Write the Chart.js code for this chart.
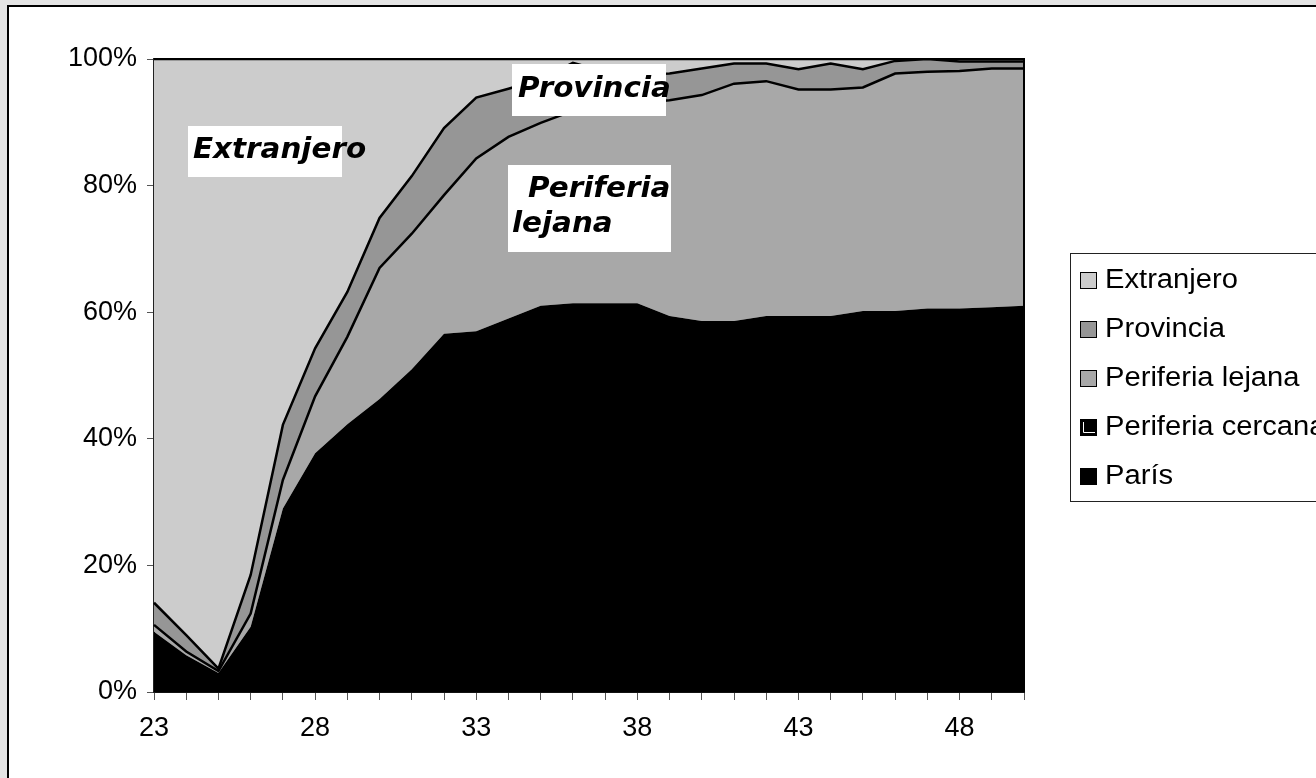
<!DOCTYPE html>
<html><head><meta charset="utf-8">
<script src="https://cdn.jsdelivr.net/npm/chart.js@4.4.1/dist/chart.umd.min.js"></script>
<style>
html,body{margin:0;padding:0;overflow:hidden;background:#e4e4e4}
canvas{display:block}
</style>
</head><body>
<canvas id="c" width="1316" height="778"></canvas>
<script>
// ---- data (percent shares, stacked to 100) ----
const years = ['23','24','25','26','27','28','29','30','31','32','33','34','35','36','37','38','39','40','41','42','43','44','45','46','47','48','49','50'];
const paris      = [9.0,5.5,2.8,9.6,27.5,35.7,40.1,44.0,48.6,54.1,54.4,56.3,58.2,58.6,58.6,58.5,56.5,55.7,55.6,56.4,56.4,56.3,57.1,57.1,57.5,57.4,57.6,57.8];
const cercana    = [0.5,0.3,0.2,0.7,1.5,2.0,2.2,2.3,2.4,2.5,2.6,2.7,2.8,2.8,2.8,2.9,2.9,2.9,3.0,3.0,3.0,3.1,3.1,3.1,3.1,3.2,3.2,3.2];
const lejana     = [1.1,0.6,0.3,2.1,4.5,9.0,13.8,20.7,21.4,21.9,27.3,28.7,28.9,30.4,31.1,31.6,34.1,35.7,37.5,37.1,35.8,35.8,35.3,37.5,37.4,37.5,37.7,37.5];
const provincia  = [3.5,2.6,0.4,6.1,8.7,7.6,7.1,7.9,9.1,10.6,9.6,7.6,6.9,7.6,5.5,4.5,4.2,4.2,3.2,2.8,3.2,4.1,2.9,2.0,2.0,1.5,1.1,1.1];
const extranjero = [85.9,91.0,96.3,81.5,57.8,45.7,36.8,25.1,18.5,10.9,6.1,4.7,3.2,0.6,2.0,2.5,2.3,1.5,0.7,0.7,1.6,0.7,1.6,0.3,0.0,0.4,0.4,0.4];
const xTickLabels = ['23','28','33','38','43','48'];
const yTicks = [0,20,40,60,80,100];
const seriesNames = ['París','Periferia cercana','Periferia lejana','Provincia','Extranjero'];
const areaLabels = [['Extranjero'],['Provincia'],['Periferia','lejana']];

const AXIS_FONT = {family:'"Liberation Sans", Arial, sans-serif', size:27};

const framePlugin = {
  id:'frame',
  beforeDraw(chart){
    const ctx = chart.ctx;
    ctx.save();
    ctx.fillStyle = '#e4e4e4';
    ctx.fillRect(0,0,chart.width,chart.height);
    ctx.fillStyle = '#ffffff';
    ctx.fillRect(8,6,chart.width,chart.height);
    ctx.strokeStyle = '#000';
    ctx.lineWidth = 2;
    ctx.beginPath();
    ctx.moveTo(8,chart.height); ctx.lineTo(8,6); ctx.lineTo(chart.width,6);
    ctx.stroke();
    ctx.restore();
  }
};

const plotBorderPlugin = {
  id:'plotBorder',
  afterDatasetsDraw(chart){
    const a = chart.chartArea, ctx = chart.ctx;
    ctx.save();
    ctx.strokeStyle = '#000';
    ctx.lineWidth = 2;
    ctx.beginPath();
    ctx.moveTo(a.left, a.top); ctx.lineTo(a.right, a.top); ctx.lineTo(a.right, a.bottom);
    ctx.stroke();
    ctx.restore();
  }
};

function stretchedText(ctx, t, x, y, sx){
  ctx.save();
  ctx.translate(x, y);
  ctx.scale(sx, 1);
  ctx.fillText(t, 0, 0);
  ctx.restore();
}

const annotPlugin = {
  id:'annot',
  afterDatasetsDraw(chart){
    const a = chart.chartArea, ctx = chart.ctx;
    const boxes = [
      {x:34, y:67, w:154, h:51, lines:[[39,99]]},
      {x:358, y:5, w:154, h:52, lines:[[364,38]]},
      {x:354, y:106, w:163, h:87, lines:[[374,138],[358,173]]}
    ];
    ctx.save();
    ctx.font = 'italic bold 28px "DejaVu Sans", Verdana, sans-serif';
    ctx.textBaseline = 'alphabetic';
    boxes.forEach((b,i)=>{
      ctx.fillStyle = '#fff';
      ctx.fillRect(a.left+b.x, a.top+b.y, b.w, b.h);
      ctx.fillStyle = '#000';
      areaLabels[i].forEach((t,j)=>{
        stretchedText(ctx, t, a.left+b.lines[j][0], a.top+b.lines[j][1], 1.05);
      });
    });
    ctx.restore();
  }
};

const legendPlugin = {
  id:'customLegend',
  afterDraw(chart){
    const ctx = chart.ctx;
    const lx = 1070, ly = 253, lw = 300, lh = 248;
    ctx.save();
    ctx.fillStyle = '#fff';
    ctx.fillRect(lx, ly, lw, lh);
    ctx.strokeStyle = '#222';
    ctx.lineWidth = 1;
    ctx.strokeRect(lx+0.5, ly+0.5, lw, lh);
    ctx.font = '27px "Liberation Sans", Arial, sans-serif';
    ctx.textBaseline = 'middle';
    const ds = chart.data.datasets.slice().reverse();
    ds.forEach((d,i)=>{
      const cy = 280 + i*49;
      ctx.fillStyle = d.backgroundColor;
      ctx.fillRect(1080, cy-8, 17, 17);
      ctx.strokeStyle = '#000';
      ctx.lineWidth = 1;
      ctx.strokeRect(1080.5, cy-7.5, 16, 16);
      if (d.label === 'Periferia cercana') {
        ctx.strokeStyle = '#fff';
        ctx.beginPath();
        ctx.moveTo(1083.5, cy-5); ctx.lineTo(1083.5, cy+5.5); ctx.lineTo(1095, cy+5.5);
        ctx.stroke();
      }
      ctx.fillStyle = '#000';
      stretchedText(ctx, d.label, 1105, cy+1, 1.08);
    });
    ctx.restore();
  }
};

const mk = (label, data, color, bw, fill) => ({
  label, data, backgroundColor: color, borderColor: bw ? '#000' : 'rgba(0,0,0,0)', borderWidth: bw,
  fill, pointRadius: 0, pointHoverRadius: 0, tension: 0, borderJoinStyle: 'miter'
});

new Chart(document.getElementById('c'), {
  type: 'line',
  data: {
    labels: years,
    datasets: [
      mk(seriesNames[0], paris, '#000000', 0, 'origin'),
      mk(seriesNames[1], cercana, '#000000', 0, 'origin'),
      mk(seriesNames[2], lejana, '#a8a8a8', 2.5, '-1'),
      mk(seriesNames[3], provincia, '#969696', 2.5, '-1'),
      mk(seriesNames[4], extranjero, '#cccccc', 2.5, '-1')
    ]
  },
  options: {
    responsive: false,
    animation: false,
    devicePixelRatio: 1,
    layout: {padding: {left: 0, top: 59, right: 292, bottom: 0}},
    plugins: {legend: {display: false}, tooltip: {enabled: false}, filler: {propagate: false}},
    scales: {
      x: {
        type: 'category',
        offset: false,
        grid: {display: true, drawOnChartArea: false, drawTicks: true, tickLength: 8, color: '#555', lineWidth: 1},
        border: {display: true, color: '#111', width: 2},
        ticks: {
          autoSkip: false, maxRotation: 0, minRotation: 0, padding: 12, color: '#000', font: AXIS_FONT,
          callback: function(v){ const l = this.getLabelForValue(v); return xTickLabels.includes(l) ? l : ''; }
        },
        afterFit: s => { s.height = 86; }
      },
      y: {
        stacked: true, min: 0, max: 100,
        afterBuildTicks: s => { s.ticks = yTicks.map(v => ({value: v})); },
        grid: {display: true, drawOnChartArea: false, drawTicks: true, tickLength: 7, color: '#555', lineWidth: 1},
        border: {display: true, color: '#222', width: 2},
        ticks: {padding: 10, color: '#000', font: AXIS_FONT, callback: v => v + '%'},
        afterFit: s => { s.width = 154; }
      }
    }
  },
  plugins: [framePlugin, plotBorderPlugin, annotPlugin, legendPlugin]
});
</script>
</body></html>
